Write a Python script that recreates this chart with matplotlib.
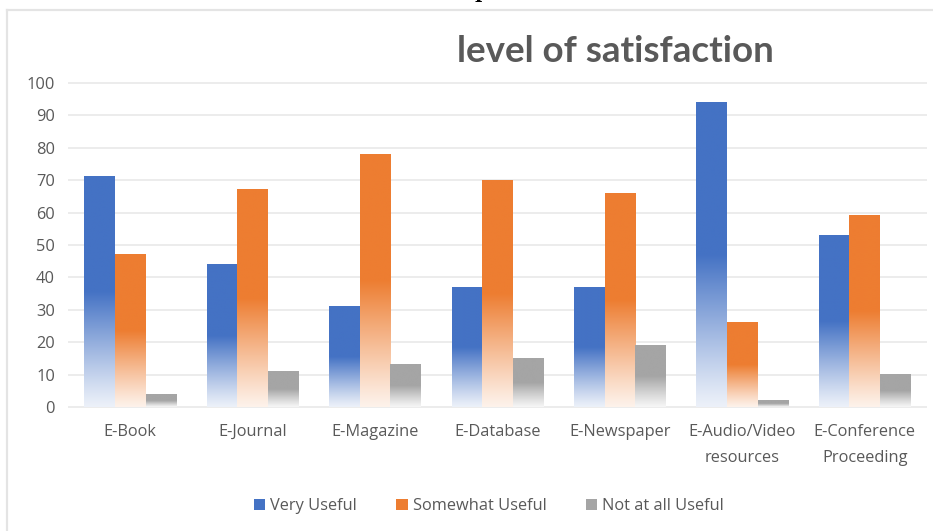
import numpy as np
import matplotlib
matplotlib.use("Agg")
import matplotlib.pyplot as plt
from matplotlib.colors import to_rgb
from matplotlib.patches import Patch
from matplotlib.lines import Line2D

categories = ["E-Book", "E-Journal", "E-Magazine", "E-Database",
              "E-Newspaper", "E-Audio/Video\nresources", "E-Conference\nProceeding"]
very_useful = [71, 44, 31, 37, 37, 94, 53]
somewhat_useful = [47, 67, 78, 70, 66, 26, 59]
not_useful = [4, 11, 13, 15, 19, 2, 10]
series_names = ["Very Useful", "Somewhat Useful", "Not at all Useful"]
series_colors = ["#4472C4", "#ED7D31", "#A5A5A5"]
y_ticks = list(range(0, 101, 10))

W, H, DPI = 933, 531, 100
fig = plt.figure(figsize=(W / DPI, H / DPI), dpi=DPI)
fig.patch.set_facecolor("white")

# chart frame edges
fig.add_artist(Line2D([7.5 / W, 1.0], [1 - 9.5 / H, 1 - 9.5 / H], color="#e4e4e4", lw=1.6))
fig.add_artist(Line2D([7.5 / W, 7.5 / W], [0, 1 - 9.5 / H], color="#e4e4e4", lw=1.6))
# fragment of surrounding text above the chart
fig.text(474 / W, 1 + 2 / H, "p", fontsize=14, family="DejaVu Serif",
         fontweight="bold", color="black", ha="left", va="baseline")

ax = fig.add_axes([69 / W, 1 - 407 / H, (926 - 69) / W, (407 - 83) / H])
ax.set_xlim(-0.5, len(categories) - 0.5)
ax.set_ylim(0, 100)
for s in ax.spines.values():
    s.set_visible(False)
ax.set_yticks(y_ticks)
for t in y_ticks:
    ax.axhline(t, color="#ececec", lw=1.4, zorder=0, clip_on=False)

tick_font = dict(family="Open Sans", size=11.8, color="#595959")
ax.set_xticks(range(len(categories)))
ax.set_xticklabels(categories, linespacing=1.85, **tick_font)
ax.set_yticklabels([str(t) for t in y_ticks], **tick_font)
ax.tick_params(axis="x", length=0, pad=12)
ax.tick_params(axis="y", length=0, pad=10)


def gradient_bar(ax, x0, width, height, color):
    rgb = np.array(to_rgb(color))
    n = 200
    frac = np.linspace(0, 1, n)  # 0 at bottom, 1 at top
    # solid over the upper half, fading toward white at the base
    mix = np.clip(frac / 0.5, 0, 1)
    mix = 0.1 + 0.9 * mix ** 1.1
    img = rgb[None, :] * mix[:, None] + (1 - mix[:, None]) * np.ones(3)[None, :]
    img = img[:, None, :]
    ax.imshow(img, extent=(x0, x0 + width, 0, height), origin="lower",
              aspect="auto", interpolation="bilinear", zorder=2)


bw = 0.25
series = [very_useful, somewhat_useful, not_useful]
for i, (vals, col) in enumerate(zip(series, series_colors)):
    for j, v in enumerate(vals):
        x0 = j + (i - 1.5) * bw
        gradient_bar(ax, x0, bw, v, col)
ax.set_xlim(-0.5, len(categories) - 0.5)
ax.set_ylim(0, 100)

fig.text(615 / W, 1 - 52 / H, "level of satisfaction", family="Lato",
         fontweight="bold", fontsize=26.5, color="#595959", ha="center", va="center")

handles = [Patch(facecolor=c, edgecolor="none") for c in series_colors]
fig.legend(handles, series_names, loc="center", bbox_to_anchor=(489 / W, 1 - 506 / H),
           ncol=3, frameon=False, prop=dict(family="Open Sans", size=11.8),
           labelcolor="#595959", handlelength=0.7, handleheight=0.7,
           handletextpad=0.3, columnspacing=2.4)

fig.savefig("out.png", dpi=DPI, facecolor="white")
